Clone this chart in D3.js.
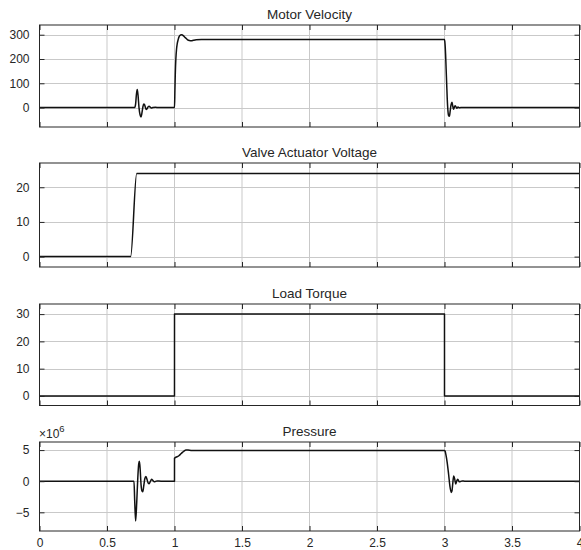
<!DOCTYPE html>
<html><head><meta charset="utf-8">
<script src="https://cdn.jsdelivr.net/npm/d3@7"></script>
<style>body{margin:0;background:#fff}svg{display:block}text{font-family:"Liberation Sans",Arial,sans-serif;fill:#262626}</style>
</head><body>
<script>
// ---- data ----
const xTicks = [0,0.5,1,1.5,2,2.5,3,3.5,4];
const xTickLabels = ["0","0.5","1","1.5","2","2.5","3","3.5","4"];
const titles = ["Motor Velocity","Valve Actuator Voltage","Load Torque","Pressure"];

const velTime = [0,0.705,0.712,0.718,0.724,0.73,0.737,0.745,0.752,0.758,0.765,0.772,0.778,0.785,0.79,0.797,0.805,0.812,0.82,0.828,0.84,0.86,0.88,1.0,1.003,1.006,1.01,1.015,1.02,1.028,1.035,1.045,1.055,1.065,1.08,1.095,1.11,1.125,1.14,1.16,1.2,3.0,3.004,3.008,3.012,3.016,3.02,3.025,3.03,3.036,3.042,3.048,3.055,3.06,3.066,3.072,3.078,3.085,3.092,3.1,3.11,3.12,3.14,4.0];
const velValues = [0,0,15,55,74,50,0,-30,-39,-25,0,15,12,0,-8,-5,3,5,2,-2,0,1,0,0,70,140,200,240,262,282,293,299,300,296,288,280,276,275,277,279,280,280,262,220,160,100,40,-10,-32,-36,-15,10,22,10,-7,0,8,3,-3,2,-1,0,0,0];

const valveTime = [0,0.675,0.72,4.0];
const valveValues = [0,0,24,24];

const torqueTime = [0,0.9999,1.0001,2.9999,3.0001,4.0];
const torqueValues = [0,0,30,30,0,0];

const presTime = [0,0.7,0.705,0.712,0.72,0.728,0.735,0.74,0.746,0.752,0.76,0.765,0.772,0.78,0.788,0.795,0.805,0.812,0.822,0.83,0.84,0.85,0.87,0.9,0.9999,1.0001,1.01,1.03,1.05,1.07,1.085,1.1,1.13,1.2,3.0,3.005,3.01,3.02,3.03,3.04,3.05,3.055,3.062,3.068,3.076,3.083,3.09,3.098,3.11,3.13,3.15,4.0];
const presValues = [0,0,-3,-6.4,-3.5,0.5,2.8,3.2,1.8,-0.5,-1.6,-1.7,-0.8,0.4,0.75,0.4,-0.3,-0.4,0,0.3,0.1,-0.1,0.05,0,0,3.7,3.85,4.05,4.45,4.85,5.02,5.0,4.94,4.92,4.92,4.8,4.3,3.0,1.2,-0.8,-1.8,-1.6,-0.2,0.85,0.3,-0.45,0,0.3,-0.1,0.05,0,0];

const panelYTicks = [[0,100,200,300],[0,10,20],[0,10,20,30],[-5,0,5]];
const panelYDomains = [[-80,340],[-3,27],[-3.5,33.7],[-8,6.3]];
// ---- layout ----
const W=581,H=550, x0=39.5, x1=579.5;
const panelBoxes=[[25,127],[163,267],[304,405.5],[442,531]];
const series=[[velTime,velValues],[valveTime,valveValues],[torqueTime,torqueValues],[presTime,presValues]];

const svg=d3.select("body").append("svg").attr("width",W).attr("height",H);
const x=d3.scaleLinear().domain([0,4]).range([x0,x1]);
const axisCol="#262626", gridCol="#c9c9c9", tl=5;

panelBoxes.forEach((b,i)=>{
  const y=d3.scaleLinear().domain(panelYDomains[i]).range([b[1],b[0]]);
  const g=svg.append("g");
  const clipId="clip"+i;
  svg.append("clipPath").attr("id",clipId).append("rect").attr("x",x0).attr("y",b[0]).attr("width",x1-x0).attr("height",b[1]-b[0]);
  // grid
  g.selectAll(".gx").data(xTicks).join("line").attr("x1",d=>x(d)).attr("x2",d=>x(d)).attr("y1",b[0]).attr("y2",b[1]).attr("stroke",gridCol).attr("stroke-width",1);
  g.selectAll(".gy").data(panelYTicks[i]).join("line").attr("class","gy").attr("x1",x0).attr("x2",x1).attr("y1",d=>Math.round(y(d))+0.5).attr("y2",d=>Math.round(y(d))+0.5).attr("stroke",gridCol).attr("stroke-width",1);
  // line
  const data=series[i][0].map((t,k)=>[t,series[i][1][k]]);
  g.append("path").datum(data).attr("clip-path","url(#"+clipId+")")
    .attr("d",d3.line().x(d=>x(d[0])).y(d=>y(d[1])).curve(d3.curveMonotoneX))
    .attr("fill","none").attr("stroke","#111").attr("stroke-width",1.5).attr("stroke-linejoin","round");
  // box
  g.append("rect").attr("x",x0).attr("y",b[0]).attr("width",x1-x0).attr("height",b[1]-b[0]).attr("fill","none").attr("stroke",axisCol).attr("stroke-width",1);
  // axes via d3 (ticks inward)
  const ax=g.append("g").attr("transform",`translate(${x0},0)`).call(d3.axisLeft(y).tickValues(panelYTicks[i]).tickSizeInner(-tl).tickSizeOuter(0).tickPadding(10).tickFormat(d3.format("d")));
  ax.select(".domain").remove();
  ax.selectAll("line").attr("stroke",axisCol);
  ax.selectAll("text").style("font-size","12px").attr("fill",axisCol);
  const axr=g.append("g").attr("transform",`translate(${x1},0)`).call(d3.axisRight(y).tickValues(panelYTicks[i]).tickSizeInner(-tl).tickSizeOuter(0).tickFormat(""));
  axr.select(".domain").remove(); axr.selectAll("line").attr("stroke",axisCol);
  const axb=g.append("g").attr("transform",`translate(0,${b[1]})`).call(d3.axisBottom(x).tickValues(xTicks).tickSizeInner(-tl).tickSizeOuter(0).tickPadding(7).tickFormat((d,k)=> i===3?xTickLabels[k]:""));
  axb.select(".domain").remove(); axb.selectAll("line").attr("stroke",axisCol);
  axb.selectAll("text").style("font-size","12px").attr("fill",axisCol);
  const axt=g.append("g").attr("transform",`translate(0,${b[0]})`).call(d3.axisTop(x).tickValues(xTicks).tickSizeInner(-tl).tickSizeOuter(0).tickFormat(""));
  axt.select(".domain").remove(); axt.selectAll("line").attr("stroke",axisCol);
  // title
  svg.append("text").attr("x",(x0+x1)/2).attr("y",b[0]-6).attr("text-anchor","middle").style("font-size","13.5px").text(titles[i]);
});
// exponent label
const ex=svg.append("text").attr("x",39).attr("y",438).style("font-size","12px").attr("fill",axisCol);
ex.append("tspan").text("\u00d710");
ex.append("tspan").attr("dy",-6).style("font-size","9.5px").text("6");
</script>
</body></html>
